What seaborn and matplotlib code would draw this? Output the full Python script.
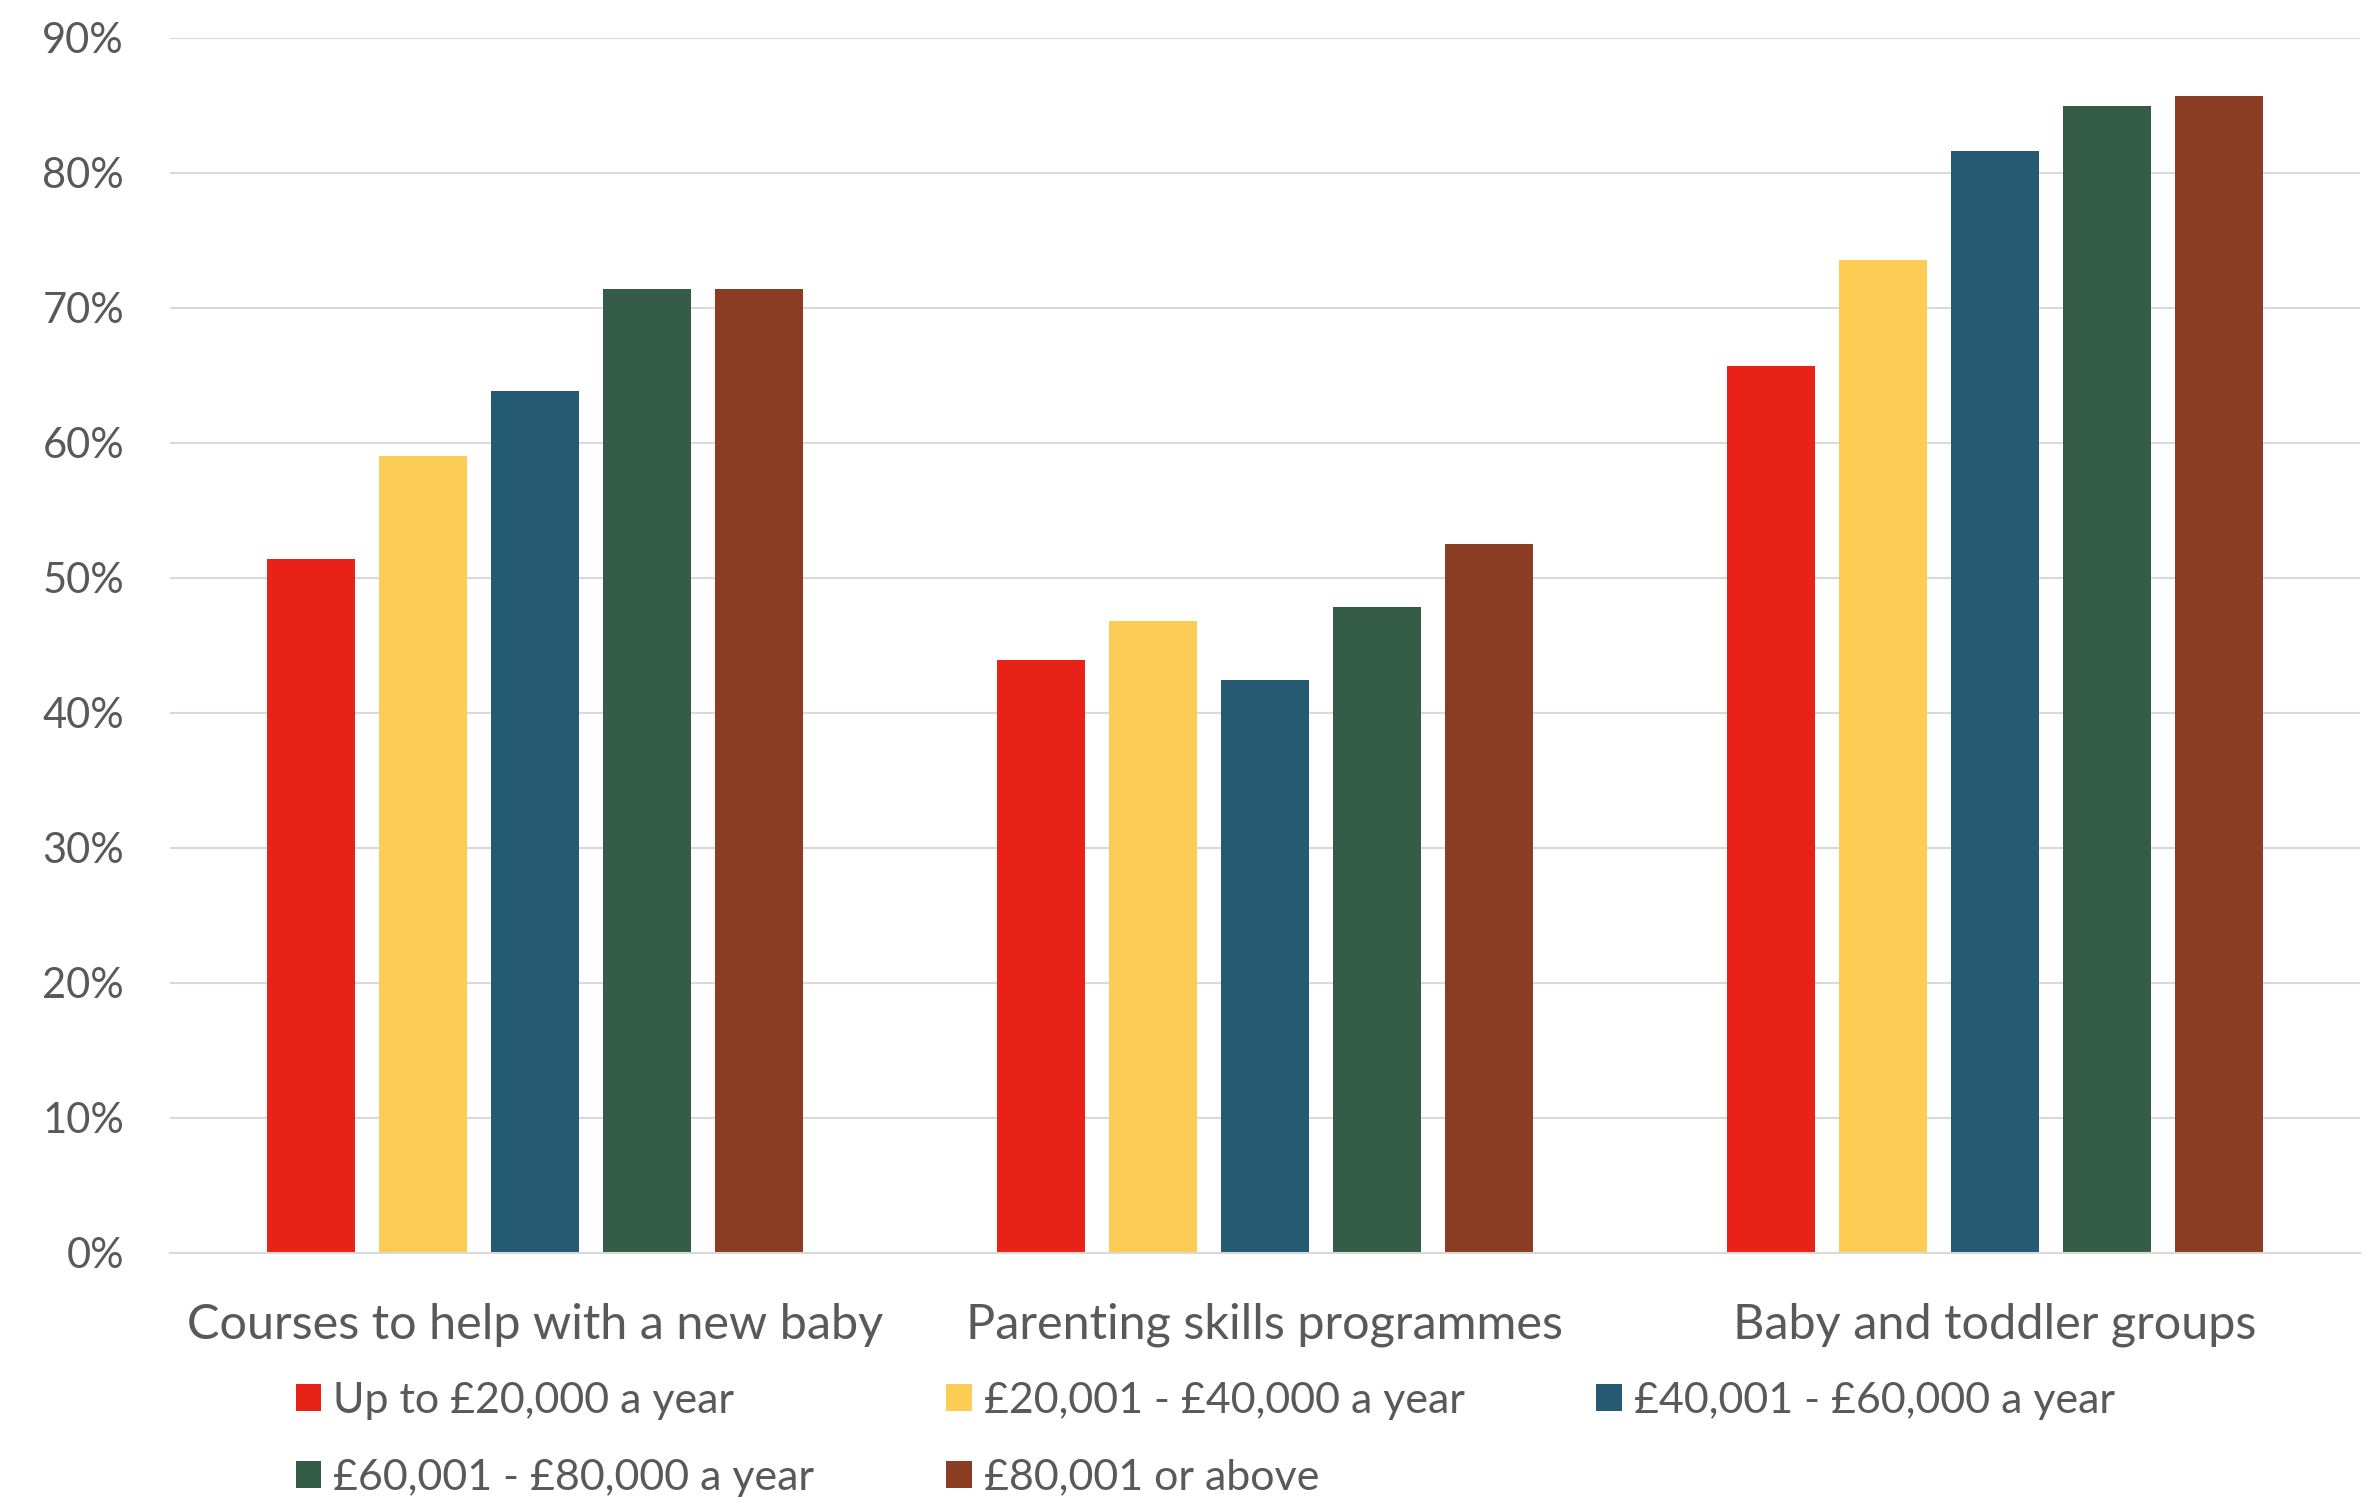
import matplotlib
matplotlib.use('Agg')
import matplotlib.pyplot as plt
import seaborn as sns
import pandas as pd

categories = ['Courses to help with a new baby', 'Parenting skills programmes', 'Baby and toddler groups']
income_groups = ['Up to £20,000 a year', '£20,001 - £40,000 a year', '£40,001 - £60,000 a year',
                 '£60,001 - £80,000 a year', '£80,001 or above']

# percent of parents, per category
up_to_20k = [51.4, 43.9, 65.7]
from_20k_to_40k = [59.0, 46.8, 73.5]
from_40k_to_60k = [63.8, 42.4, 81.6]
from_60k_to_80k = [71.4, 47.8, 84.9]
over_80k = [71.4, 52.5, 85.7]

colors = ['#E82216', '#FDCC54', '#255A73', '#355C47', '#8A3D22']

series = [up_to_20k, from_20k_to_40k, from_40k_to_60k, from_60k_to_80k, over_80k]
rows = []
for group, values in zip(income_groups, series):
    for cat, v in zip(categories, values):
        rows.append({'category': cat, 'income': group, 'value': v})
df = pd.DataFrame(rows)

sns.set_style('white')
plt.rcParams['font.family'] = ['Lato', 'DejaVu Sans']
text_color = '#595959'
grid_color = '#D9D9D9'

fig = plt.figure(figsize=(23.77, 15.04), dpi=100)
ax = fig.add_axes([0.0715, 0.167, 0.9213, 0.808])

sns.barplot(data=df, x='category', y='value', hue='income', hue_order=income_groups,
            order=categories, palette=colors, saturation=1, width=0.767, gap=0.213,
            linewidth=0, ax=ax)

ax.set_ylim(0, 90)
ax.set_xlim(-0.5, 2.5)
ax.set_yticks(range(0, 91, 10))
ax.set_yticklabels([f'{t}%' for t in range(0, 91, 10)])
ax.yaxis.grid(True, color=grid_color, linewidth=1.5)
ax.set_axisbelow(True)
ax.set_xlabel('')
ax.set_ylabel('')

for side in ['top', 'right', 'left']:
    ax.spines[side].set_visible(False)
ax.spines['bottom'].set_color(grid_color)
ax.spines['bottom'].set_linewidth(1.5)

ax.tick_params(axis='y', length=0, pad=33, labelsize=30, labelcolor=text_color)
ax.tick_params(axis='x', length=0, pad=36, labelsize=35, labelcolor=text_color)

handles, labels = ax.get_legend_handles_labels()
ax.legend_.remove()
order = [0, 3, 1, 4, 2]
fig.legend([handles[i] for i in order], [labels[i] for i in order],
           loc='center', bbox_to_anchor=(0.507, 0.043), ncol=3, frameon=False,
           fontsize=31, labelcolor=text_color, handlelength=0.6, handleheight=0.6,
           handletextpad=0.28, columnspacing=3.05, labelspacing=0.9)

fig.savefig('out.png', dpi=100)
